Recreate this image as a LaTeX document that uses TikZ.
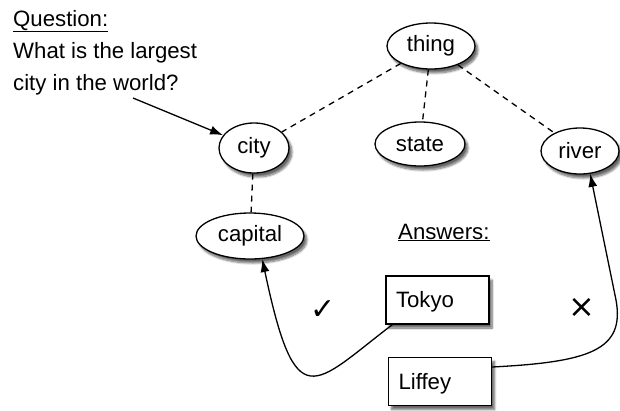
\documentclass[tikz,border=0pt]{standalone}
\usepackage{fontspec}
\setmainfont{Liberation Sans}
\newfontfamily\symfont{DejaVu Sans}
\usetikzlibrary{arrows.meta, shapes.geometric, shadows.blur}

\begin{document}
\begin{tikzpicture}[x=1pt, y=-1pt,
    every node/.style={font=\fontsize{22.2}{26}\selectfont},
    concept/.style={ellipse, draw, line width=1.3pt, fill=white, inner sep=0pt,
      blur shadow={shadow xshift=3pt, shadow yshift=-4pt, shadow opacity=60, shadow blur steps=8}},
    answer/.style={rectangle, draw, line width=1.3pt, fill=white, minimum height=48pt,
      text width=83pt, inner xsep=10pt, text height=15pt, text depth=0pt, align=left,
      blur shadow={shadow xshift=3pt, shadow yshift=-4pt, shadow opacity=60, shadow blur steps=8}},
    link/.style={line width=1.3pt, dash pattern=on 6pt off 5pt},
    pick/.style={line width=1.3pt, -{Latex[length=13pt,width=9pt]}}]
  %tikz  question, concepts, answers
    \useasboundingbox (0,0) rectangle (620,410);
    \node[anchor=base west, inner sep=0pt] (qhead) at (13,26) {\underline{Question:}};
    \node[anchor=base west, inner sep=0pt] (qline1) at (13,58) {What is the largest};
    \node[anchor=base west, inner sep=0pt] (qline2) at (13,90) {city in the world?};
    \node[anchor=base west, inner sep=0pt] (ahead) at (398,239) {\underline{Answers:}};
    \node[concept, minimum width=88pt, minimum height=46pt] (thing) at (431,46) {thing};
    \node[concept, minimum width=70pt, minimum height=50pt] (city) at (254,148) {city};
    \node[concept, minimum width=90pt, minimum height=44pt] (state) at (420,144) {state};
    \node[concept, minimum width=78pt, minimum height=46pt] (river) at (580,151) {river};
    \node[concept, minimum width=108pt, minimum height=46pt] (capital) at (250,236) {capital};
    \node[answer] (tokyo) at (437.5,300) {Tokyo};
    \node[answer] (liffey) at (440,381.5) {Liffey};
    \node[font=\symfont\fontsize{30}{30}\selectfont] (yes) at (323,310) {✓};
    \node[font=\symfont\fontsize{32}{32}\selectfont] (no) at (582,308) {×};
    \draw[link] (thing) -- (city);
    \draw[link] (thing) -- (state);
    \draw[link] (thing) -- (river);
    \draw[link] (city) -- (capital);
    \coordinate (qtip) at (133,98);
    \draw[pick] (qtip) -- (city);
    \draw[pick] ([xshift=7pt]tokyo.south west) .. controls (313,385) and (296,419) .. (capital.-62);
    \draw[pick] ([yshift=14.5pt]liffey.east) .. controls (590,362) and (625,350) .. (616,300) -- (river.-66);
  \end{tikzpicture}
\end{document}
